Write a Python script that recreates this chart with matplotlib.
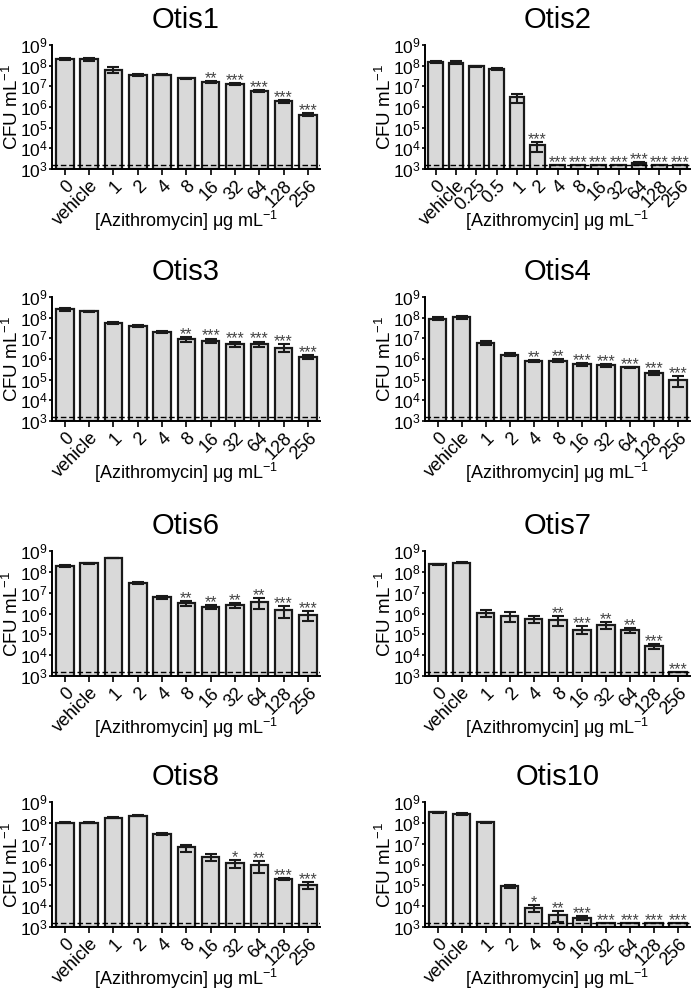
import numpy as np
import matplotlib
matplotlib.use("Agg")
import matplotlib.pyplot as plt
from matplotlib.ticker import FixedLocator, FuncFormatter

plt.rcParams['font.family'] = ['Liberation Sans', 'DejaVu Sans']
plt.rcParams['mathtext.fontset'] = 'custom'
plt.rcParams['mathtext.rm'] = 'Liberation Sans'
plt.rcParams['mathtext.it'] = 'Liberation Sans:italic'

LOD = 1.5e3

conc_std = ["0", "vehicle", "1", "2", "4", "8", "16", "32", "64", "128", "256"]
conc_otis2 = ["0", "vehicle", "0.25", "0.5", "1", "2", "4", "8", "16", "32", "64", "128", "256"]

otis1_vals = [2.1e8, 2.0e8, 6.2e7, 3.6e7, 3.6e7, 2.4e7, 1.6e7, 1.35e7, 6.0e6, 1.95e6, 4.3e5]
otis1_err = [3e7, 3.5e7, 2e7, 4e6, 2e6, 1.5e6, 2e6, 1.5e6, 6e5, 3e5, 6e4]
otis1_sig = ["", "", "", "", "", "", "**", "***", "***", "***", "***"]

otis2_vals = [1.5e8, 1.4e8, 9.5e7, 7.0e7, 2.9e6, 1.4e4, 1.5e3, 1.5e3, 1.5e3, 1.5e3, 1.9e3, 1.5e3, 1.5e3]
otis2_err = [2.2e7, 2e7, 6e6, 7e6, 1.3e6, 7e3, 0, 0, 0, 0, 2.5e2, 0, 0]
otis2_sig = ["", "", "", "", "", "***", "***", "***", "***", "***", "***", "***", "***"]

otis3_vals = [2.5e8, 2.0e8, 5.6e7, 3.8e7, 2.0e7, 9.3e6, 7.8e6, 5.5e6, 5.5e6, 3.6e6, 1.25e6]
otis3_err = [5e7, 1.5e7, 6e6, 4e6, 2e6, 2.8e6, 2e6, 1.5e6, 1.5e6, 1.5e6, 3e5]
otis3_sig = ["", "", "", "", "", "**", "***", "***", "***", "***", "***"]

otis4_vals = [8.8e7, 1.05e8, 6.0e6, 1.65e6, 8.2e5, 8.3e5, 5.7e5, 5.0e5, 3.9e5, 2.2e5, 9.6e4]
otis4_err = [1.5e7, 1.5e7, 1.3e6, 2e5, 1e5, 1.5e5, 1e5, 1e5, 3e4, 5e4, 5e4]
otis4_sig = ["", "", "", "", "**", "**", "***", "***", "***", "***", "***"]

otis6_vals = [1.9e8, 2.6e8, 4.6e8, 3.0e7, 6.0e6, 3.1e6, 2.1e6, 2.5e6, 3.6e6, 1.4e6, 8.5e5]
otis6_err = [1.5e7, 2e7, 2e7, 4e6, 1.3e6, 8e5, 4e5, 7e5, 2e6, 8e5, 4e5]
otis6_sig = ["", "", "", "", "", "**", "**", "**", "**", "***", "***"]

otis7_vals = [2.3e8, 2.8e8, 1.05e6, 8.0e5, 5.5e5, 5.1e5, 1.7e5, 2.9e5, 1.6e5, 2.7e4, 1.5e3]
otis7_err = [1.5e7, 1.5e7, 4e5, 4e5, 2e5, 2.5e5, 7e4, 1e5, 5e4, 8e3, 0]
otis7_sig = ["", "", "", "", "", "**", "***", "**", "**", "***", "***"]

otis8_vals = [1.0e8, 1.02e8, 1.8e8, 2.2e8, 3.0e7, 6.6e6, 2.3e6, 1.2e6, 9.5e5, 2.1e5, 1.05e5]
otis8_err = [6e6, 6e6, 8e6, 1.5e7, 3e6, 2.5e6, 8e5, 5e5, 5.5e5, 2e4, 3.5e4]
otis8_sig = ["", "", "", "", "", "", "", "*", "**", "***", "***"]

otis10_vals = [3.2e8, 2.8e8, 1.07e8, 9.3e4, 8.5e3, 3.7e3, 2.7e3, 1.5e3, 1.5e3, 1.5e3, 1.5e3]
otis10_err = [2e7, 3e7, 8e6, 1.5e4, 3e3, 2e3, 6e2, 0, 0, 0, 0]
otis10_sig = ["", "", "", "", "*", "**", "***", "***", "***", "***", "***"]

panels = [
    ("Otis1", conc_std, otis1_vals, otis1_err, otis1_sig),
    ("Otis2", conc_otis2, otis2_vals, otis2_err, otis2_sig),
    ("Otis3", conc_std, otis3_vals, otis3_err, otis3_sig),
    ("Otis4", conc_std, otis4_vals, otis4_err, otis4_sig),
    ("Otis6", conc_std, otis6_vals, otis6_err, otis6_sig),
    ("Otis7", conc_std, otis7_vals, otis7_err, otis7_sig),
    ("Otis8", conc_std, otis8_vals, otis8_err, otis8_sig),
    ("Otis10", conc_std, otis10_vals, otis10_err, otis10_sig),
]

W, H = 692, 990
fig = plt.figure(figsize=(W / 100, H / 100), dpi=100)

col_left = [52, 425]
col_right = [320, 690]
row_top = [45, 297, 551, 802]
row_bot = [169, 421, 676, 927]


def fmt(v, pos):
    return r'$\mathregular{10^{%d}}$' % int(round(np.log10(v)))


for i, (title, labels, vals, errs, sig) in enumerate(panels):
    r, c = divmod(i, 2)
    wpx = col_right[c] - col_left[c]
    hpx = row_bot[r] - row_top[r]
    ax = fig.add_axes([col_left[c] / W, 1 - row_bot[r] / H, wpx / W, hpx / H])
    n = len(labels)
    x = np.arange(n)
    vals = np.array(vals)
    errs = np.array(errs)
    ax.bar(x, vals - 1e3, bottom=1e3, width=0.72, color='#d9d9d9',
           edgecolor='#1a1a1a', linewidth=1.6, zorder=2)
    mask = errs > 0
    lower = np.minimum(errs, vals - 1.001e3)
    ax.errorbar(x[mask], vals[mask], yerr=[lower[mask], errs[mask]], fmt='none',
                ecolor='#1a1a1a', elinewidth=1.5, capsize=4, capthick=1.5, zorder=3)
    ax.axhline(LOD, color='black', linestyle=(0, (4, 2)), linewidth=1.0, zorder=4)
    for xi, v, e, s in zip(x, vals, errs, sig):
        if s:
            ax.annotate(s, xy=(xi, v + e), xytext=(0, -1.5), textcoords='offset points',
                        ha='center', va='baseline', fontsize=11.5, color='#444444')
    ax.set_yscale('log')
    ax.set_ylim(1e3, 1e9)
    ax.set_xlim(-0.53, n - 0.5)
    ax.yaxis.set_major_locator(FixedLocator([10.0 ** k for k in range(3, 10)]))
    ax.yaxis.set_minor_locator(FixedLocator([]))
    ax.yaxis.set_major_formatter(FuncFormatter(fmt))
    ax.set_xticks(x)
    ax.set_xticklabels(labels, rotation=45, ha='right', va='top',
                       rotation_mode='anchor', fontsize=13)
    ax.tick_params(axis='y', labelsize=12.5, length=2.5, width=1.2, pad=0.5)
    ax.tick_params(axis='x', length=4, width=1.2, pad=2)
    for sp in ['top', 'right']:
        ax.spines[sp].set_visible(False)
    for sp in ['left', 'bottom']:
        ax.spines[sp].set_linewidth(1.4)
    ax.set_ylabel(r'CFU mL$^{\mathregular{-1}}$', fontsize=13.5, va='center')
    ax.yaxis.set_label_coords(-40 / wpx, 0.5)
    ax.set_xlabel(r'[Azithromycin] μg mL$^{\mathregular{-1}}$', fontsize=13, va='center')
    ax.xaxis.set_label_coords(0.5, -52 / hpx)
    ax.set_title(title, fontsize=21, pad=12)

fig.savefig('out.png', dpi=100)
